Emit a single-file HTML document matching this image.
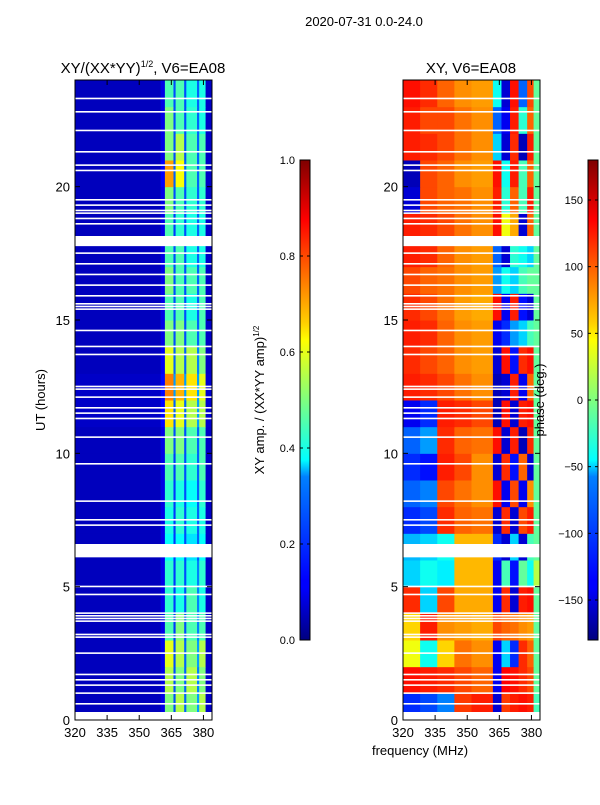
<!DOCTYPE html>
<html><head><meta charset="utf-8"><style>
body{margin:0;background:#fff;}
svg text{font-family:"Liberation Sans","DejaVu Sans",sans-serif;fill:#000;}
</style></head><body>
<svg id="fig" width="600" height="800" xmlns="http://www.w3.org/2000/svg">
<defs>
<linearGradient id="jetg" x1="0" y1="1" x2="0" y2="0">
<stop offset="0" stop-color="#00007f"/><stop offset="0.11" stop-color="#0000ff"/><stop offset="0.125" stop-color="#0000ff"/>
<stop offset="0.34" stop-color="#0080ff"/><stop offset="0.375" stop-color="#00ffff"/><stop offset="0.5" stop-color="#7fff7f"/>
<stop offset="0.625" stop-color="#ffff00"/><stop offset="0.66" stop-color="#ffd000"/><stop offset="0.875" stop-color="#ff0000"/><stop offset="1" stop-color="#7f0000"/>
</linearGradient>
</defs>
<text x="364" y="26" font-size="13" text-anchor="middle">2020-07-31 0.0-24.0</text>
<text x="143" y="73" font-size="15" text-anchor="middle">XY/(XX*YY)<tspan font-size="9" dy="-6">1/2</tspan><tspan dy="6">, V6=EA08</tspan></text>
<text x="471" y="73" font-size="15" text-anchor="middle">XY, V6=EA08</text>
<g id="left"></g>
<g id="right"></g>
<g id="axes"></g>
<text transform="translate(45,400) rotate(-90)" font-size="13" text-anchor="middle">UT (hours)</text>
<text x="420" y="755" font-size="13" text-anchor="middle">frequency (MHz)</text>
<rect x="300" y="160" width="10" height="480" fill="url(#jetg)" stroke="#000" stroke-width="1"/>
<rect x="588" y="160" width="10" height="480" fill="url(#jetg)" stroke="#000" stroke-width="1"/>
<text transform="translate(264,400) rotate(-90)" font-size="13" text-anchor="middle">XY amp. / (XX*YY amp)<tspan font-size="8" dy="-5">1/2</tspan></text>
<text transform="translate(544,400) rotate(-90)" font-size="13" text-anchor="middle">phase (deg.)</text>
<g id="cbticks"></g>
</svg>
<script>
const hours=[0,1,2,3,4,5,6,7,8,9,10,11,12,13,14,15,16,17,18,19,20,21,22,23];
const ampFreqEdges=[320,360,362,366,367,371,372,377,378,381,384];
const ampValues=[
[.06,.1,.5,.2,.55,.22,.5,.28,.55,.07],
[.06,.1,.55,.2,.5,.22,.55,.25,.5,.07],
[.06,.1,.6,.2,.55,.22,.5,.28,.55,.07],
[.06,.1,.45,.18,.5,.2,.45,.25,.45,.07],
[.06,.1,.42,.18,.4,.2,.45,.25,.4,.07],
[.06,.1,.42,.18,.42,.2,.4,.25,.42,.07],
[.06,.1,.38,.18,.38,.2,.35,.22,.38,.07],
[.06,.1,.4,.18,.42,.2,.4,.22,.4,.07],
[.06,.1,.42,.18,.4,.2,.38,.22,.42,.07],
[.06,.1,.45,.18,.45,.2,.42,.22,.45,.07],
[.06,.1,.5,.2,.5,.2,.45,.22,.45,.07],
[.07,.13,.65,.22,.6,.22,.55,.28,.55,.08],
[.07,.13,.75,.28,.7,.28,.65,.28,.6,.08],
[.06,.11,.6,.22,.55,.22,.55,.25,.5,.07],
[.06,.1,.5,.2,.5,.2,.45,.22,.45,.07],
[.06,.1,.45,.2,.45,.2,.4,.22,.45,.07],
[.06,.1,.5,.2,.45,.2,.45,.22,.45,.07],
[.06,.1,.45,.2,.45,.2,.4,.22,.4,.07],
[.06,.1,.45,.18,.42,.2,.4,.22,.4,.07],
[.06,.1,.5,.2,.45,.2,.42,.22,.42,.07],
[.06,.12,.72,.22,.62,.22,.45,.22,.45,.07],
[.06,.1,.5,.2,.55,.2,.45,.22,.45,.07],
[.06,.1,.5,.2,.45,.2,.42,.22,.4,.07],
[.06,.1,.45,.2,.45,.2,.4,.22,.4,.07]];
const phaseFreqEdges=[320,328,336,344,352,362,366,370,374,378,381,384];
const phaseValues=[
[-120,-110,-90,115,125,-150,115,125,130,125,-20],
[130,125,120,110,100,-140,135,130,120,110,-10],
[40,-40,60,95,85,-140,-60,-120,120,100,-10],
[60,125,85,80,75,110,100,95,85,80,-10],
[120,-60,110,75,75,-140,120,-150,125,130,-10],
[-60,-40,-50,70,70,-140,-20,-130,-10,-40,20],
[-70,-60,-40,70,70,-120,-150,-60,-150,-20,-10],
[-120,-110,120,100,95,-150,120,-150,110,125,-10],
[-100,-90,110,95,85,130,-140,110,-140,85,-10],
[-120,-130,125,110,85,-150,120,-130,100,-150,-10],
[-100,-80,120,100,95,130,-150,125,-160,120,-10],
[-140,-120,125,120,110,-160,130,-150,125,130,-10],
[125,120,110,95,85,-160,-150,125,-140,100,-10],
[120,110,100,85,80,-150,130,-130,120,130,-10],
[125,120,100,85,80,-140,-120,-80,-60,-20,-10],
[120,110,95,80,75,130,-140,125,-130,-150,-10],
[110,100,95,85,80,-80,-40,-60,-20,-10,-10],
[125,120,100,85,80,-100,-150,-30,-40,-60,-10],
[125,120,110,95,85,130,40,75,-150,100,-10],
[-150,110,100,95,85,125,-30,100,-20,125,-10],
[-160,110,100,85,80,130,-40,125,-20,100,-10],
[125,120,110,95,85,-60,-150,120,-160,125,-10],
[125,110,110,95,85,-100,-140,125,-30,100,-10],
[130,120,100,85,80,-40,-150,130,-100,110,-10]];
const flaggedRanges=[[0,0.3],[6.1,6.6],[17.77,18.15]];
const flaggedLines=[0.6,1.0,1.3,1.5,1.7,2.5,3.1,3.2,3.7,3.8,3.9,4.0,4.7,5.0,7.3,7.5,8.2,9.6,10.6,11.3,11.5,11.7,12.1,12.4,12.5,13.7,14.0,14.6,15.4,15.5,15.6,15.9,16.3,16.7,17.1,17.5,18.6,18.8,19.0,19.1,19.3,19.5,20.6,20.8,21.3,22.1,22.8,23.3];
const xTicks=[320,335,350,365,380];
const yTicks=[0,5,10,15,20];
const ampTicks=[0,0.2,0.4,0.6,0.8,1.0];
const phaseTicks=[-150,-100,-50,0,50,100,150];

const NS='http://www.w3.org/2000/svg';
function jet(v){v=Math.max(0,Math.min(1,v));
 const c=t=>Math.round(255*Math.max(0,Math.min(1,1.5-Math.abs(4*v-t))));
 return `rgb(${c(3)},${c(2)},${c(1)})`;}
function mk(tag,attrs,parent){const e=document.createElementNS(NS,tag);for(const k in attrs)e.setAttribute(k,attrs[k]);parent.appendChild(e);return e;}
const Y=h=>720-h*(640/24);
function panel(gid,x0,edges,vals,norm){
 const g=document.getElementById(gid);
 const X=f=>x0+(f-320)*(137/64);
 for(let r=0;r<hours.length;r++){
  for(let c=0;c<edges.length-1;c++){
   const e=mk('rect',{x:X(edges[c]),y:Y(hours[r]+1),width:X(edges[c+1])-X(edges[c])+0.5,height:Y(hours[r])-Y(hours[r]+1)+0.5,fill:jet(norm(vals[r][c]))},g);
   
   
  }
 }
 for(const [a,b] of flaggedRanges){
  const e=mk('rect',{x:x0,y:Y(b),width:137,height:Y(a)-Y(b),fill:'#fff'},g);
  
  
 }
 for(const h of flaggedLines){
  const e=mk('rect',{x:x0,y:Y(h)-1,width:137,height:1.6,fill:'#fff'},g);
  
  
 }
 const ax=document.getElementById('axes');
 const fr=mk('rect',{x:x0,y:80,width:137,height:640,fill:'none',stroke:'#000','stroke-width':1},ax);
 
 
 for(const t of xTicks){
  mk('line',{x1:X(t),x2:X(t),y1:720,y2:715,stroke:'#000'},ax);
  mk('line',{x1:X(t),x2:X(t),y1:80,y2:85,stroke:'#000'},ax);
  const tx=mk('text',{x:X(t),y:737,'font-size':13,'text-anchor':'middle'},ax);tx.textContent=t;
  
  
 }
 for(const t of yTicks){
  mk('line',{x1:x0,x2:x0+5,y1:Y(t),y2:Y(t),stroke:'#000'},ax);
  mk('line',{x1:x0+137,x2:x0+132,y1:Y(t),y2:Y(t),stroke:'#000'},ax);
  const tx=mk('text',{x:x0-5,y:Y(t)+5,'font-size':13,'text-anchor':'end'},ax);tx.textContent=t;
  
  
 }
}
panel('left',75,ampFreqEdges,ampValues,v=>v);
panel('right',403,phaseFreqEdges,phaseValues,v=>(v+180)/360);
const cb=document.getElementById('cbticks');
for(const t of ampTicks){const y=640-t*480;
 mk('line',{x1:300,x2:303,y1:y,y2:y,stroke:'#000'},cb);mk('line',{x1:310,x2:307,y1:y,y2:y,stroke:'#000'},cb);
 const tx=mk('text',{x:295,y:y+4,'font-size':11,'text-anchor':'end'},cb);tx.textContent=t.toFixed(1);
 
 }
for(const t of phaseTicks){const y=640-(t+180)/360*480;
 mk('line',{x1:588,x2:591,y1:y,y2:y,stroke:'#000'},cb);mk('line',{x1:598,x2:595,y1:y,y2:y,stroke:'#000'},cb);
 const tx=mk('text',{x:583,y:y+4,'font-size':11,'text-anchor':'end'},cb);tx.textContent=t<0?'\u2212'+(-t):t;
 
 }
</script>
</body></html>
